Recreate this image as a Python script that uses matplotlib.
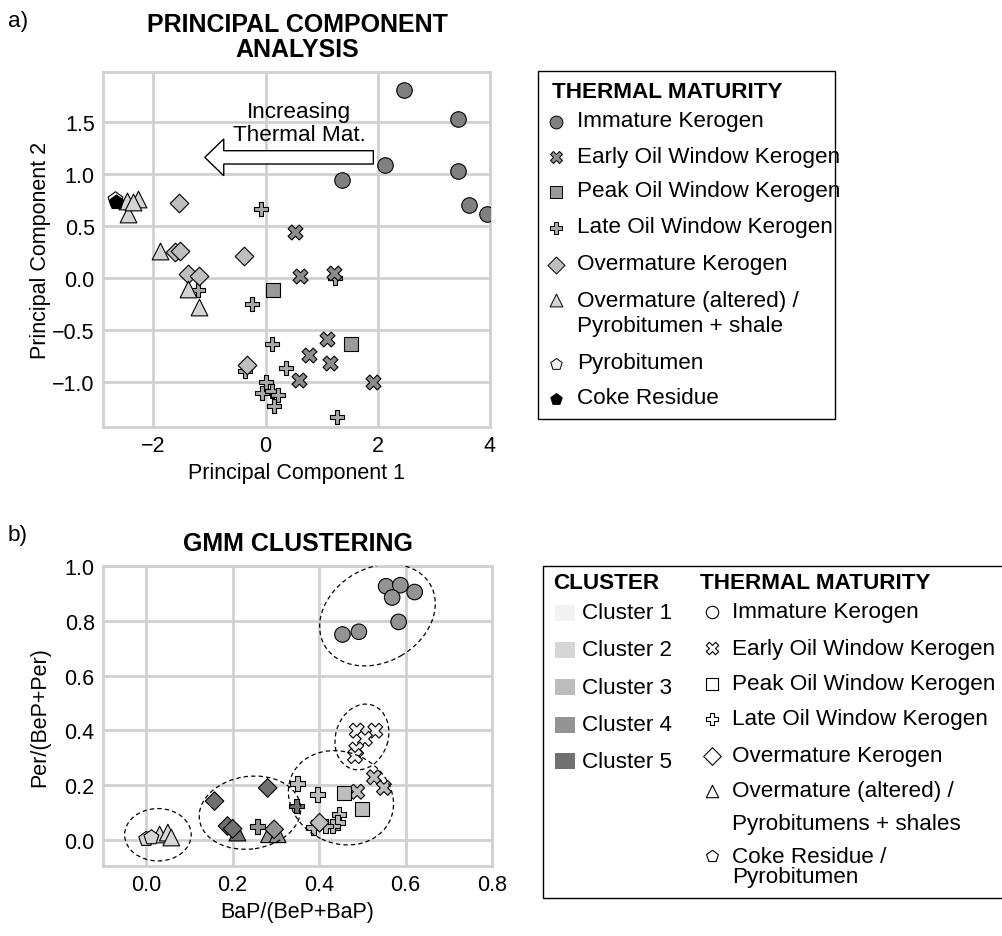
import numpy as np
import matplotlib
matplotlib.use("Agg")
from matplotlib import pyplot as plt
from matplotlib.patches import Rectangle, Ellipse, FancyArrow
from matplotlib.transforms import ScaledTranslation

plt.rcParams['font.family'] = ['Liberation Sans', 'DejaVu Sans']

# ---------------- panel a: PCA scores ----------------
imm_pc1 = [2.47, 3.43, 2.12, 3.43, 1.37, 3.63, 3.95]
imm_pc2 = [1.81, 1.53, 1.09, 1.03, 0.94, 0.70, 0.62]
early_pc1 = [0.53, 0.62, 1.21, 1.10, 0.77, 1.15, 0.60, 1.92]
early_pc2 = [0.44, 0.02, 0.05, -0.58, -0.74, -0.82, -0.98, -1.00]
peak_pc1 = [0.13, 1.52]
peak_pc2 = [-0.11, -0.63]
late_pc1 = [-0.08, -0.24, 0.12, 0.37, 0.00, -0.07, 0.11, 0.22, 0.14, 1.27, -1.21, 1.23, -0.36]
late_pc2 = [0.66, -0.25, -0.63, -0.86, -1.00, -1.10, -1.08, -1.12, -1.23, -1.33, -0.11, 0.00, -0.89]
over_pc1 = [-1.55, -0.39, -1.62, -1.53, -1.38, -1.19, -0.33]
over_pc2 = [0.72, 0.21, 0.25, 0.26, 0.04, 0.02, -0.83]
alt_pc1 = [-1.89, -1.38, -1.19, -2.48, -2.27, -2.45, -2.36]
alt_pc2 = [0.26, -0.10, -0.28, 0.74, 0.76, 0.62, 0.73]
pyro_pc1 = [-2.69]
pyro_pc2 = [0.76]
coke_pc1 = [-2.66]
coke_pc2 = [0.73]

# ---------------- panel b: GMM clustering ----------------
imm_bap = [0.555, 0.588, 0.569, 0.621, 0.584, 0.454, 0.492]
imm_per = [0.926, 0.930, 0.885, 0.905, 0.796, 0.750, 0.760]
imm_cl = [4, 4, 4, 4, 4, 4, 4]
early_bap = [0.487, 0.530, 0.506, 0.486, 0.483, 0.527, 0.550, 0.488]
early_per = [0.399, 0.399, 0.369, 0.330, 0.306, 0.229, 0.190, 0.176]
early_cl = [1, 1, 1, 1, 1, 3, 3, 3]
peak_bap = [0.457, 0.500]
peak_per = [0.170, 0.112]
peak_cl = [3, 3]
late_bap = [0.351, 0.396, 0.446, 0.442, 0.430, 0.415, 0.388, 0.348, 0.257]
late_per = [0.205, 0.166, 0.093, 0.063, 0.051, 0.051, 0.045, 0.124, 0.049]
late_cl = [3, 3, 3, 3, 3, 3, 3, 5, 4]
over_bap = [0.158, 0.281, 0.188, 0.200, 0.296, 0.401]
over_per = [0.142, 0.190, 0.051, 0.041, 0.039, 0.063]
over_cl = [5, 5, 5, 5, 4, 3]
alt_bap = [0.031, 0.050, 0.058, 0.211, 0.284, 0.304]
alt_per = [0.020, 0.027, 0.009, 0.027, 0.021, 0.021]
alt_cl = [2, 2, 2, 5, 4, 4]
coke_bap = [0.000, 0.012]
coke_per = [0.003, 0.009]
coke_cl = [2, 2]

# cluster ellipses: centre (data), semi-axes (px), angle (deg)
ell_x = [0.027, 0.240, 0.4505, 0.499, 0.535]
ell_y = [0.019, 0.0996, 0.154, 0.376, 0.821]
ell_a = [33.3, 51.0, 54.0, 33.5, 61.0]
ell_b = [26.2, 36.3, 45.5, 26.2, 47.0]
ell_ang = [0, 8, -25, 72, 30]

cluster_names = ["Cluster 1", "Cluster 2", "Cluster 3", "Cluster 4", "Cluster 5"]
cluster_colors = {1: "#f2f2f2", 2: "#d6d6d6", 3: "#bdbdbd", 4: "#939393", 5: "#707070"}

maturity_a = ["Immature Kerogen", "Early Oil Window Kerogen", "Peak Oil Window Kerogen",
              "Late Oil Window Kerogen", "Overmature Kerogen",
              "Overmature (altered) /\nPyrobitumen + shale", "Pyrobitumen", "Coke Residue"]
maturity_b = ["Immature Kerogen", "Early Oil Window Kerogen", "Peak Oil Window Kerogen",
              "Late Oil Window Kerogen", "Overmature Kerogen",
              "Overmature (altered) /", "Pyrobitumens + shales", "Coke Residue /\nPyrobitumen"]

GRID = "#d0d0d0"
FS = 16.2

fig = plt.figure(figsize=(10.03, 9.37), dpi=100)
W, H = 1003, 937


def px_axes(l, t, r, b):
    return fig.add_axes([l / W, 1 - b / H, (r - l) / W, (b - t) / H])


def style(ax):
    ax.grid(True, color=GRID, lw=2)
    ax.set_axisbelow(True)
    for s in ax.spines.values():
        s.set_color(GRID)
        s.set_linewidth(2)
    ax.tick_params(length=0, labelsize=15.5, pad=6)


# ---- panel a
ax = px_axes(103, 73, 490, 428)
style(ax)
ax.set_xlim(-2.9, 4.0)
ax.set_ylim(-1.43, 1.98)
ax.set_xticks([-2, 0, 2, 4])
ax.set_yticks([-1.0, -0.5, 0.0, 0.5, 1.0, 1.5])
ax.set_yticklabels(["\u22121.0", "\u22120.5", "0.0", "0.5", "1.0", "1.5"])
ax.set_xlabel("Principal Component 1", fontsize=15.5)
ax.set_ylabel("Principal Component 2", fontsize=15.5)
ax.yaxis.set_label_coords(-0.135, 0.5)

kw = dict(edgecolor="black", linewidths=0.8, zorder=3)
ax.scatter(imm_pc1, imm_pc2, marker="o", s=125, facecolor="#808080", **kw)
ax.scatter(late_pc1, late_pc2, marker="P", s=115, facecolor="#a9a9a9", **kw)
ax.scatter(early_pc1, early_pc2, marker="X", s=115, facecolor="#8c8c8c", **kw)
ax.scatter(peak_pc1, peak_pc2, marker="s", s=100, facecolor="#9a9a9a", **kw)
ax.scatter(over_pc1, over_pc2, marker="D", s=90, facecolor="#bebebe", **kw)
ax.scatter(alt_pc1, alt_pc2, marker="^", s=145, facecolor="#d4d4d4", **kw)
ax.scatter(pyro_pc1, pyro_pc2, marker="p", s=125, facecolor="#f2f2f2", **kw)
ax.scatter(coke_pc1, coke_pc2, marker="p", s=115, facecolor="black", **kw)

ax.add_patch(FancyArrow(1.92, 1.16, -3.005, 0, width=0.128, head_width=0.353,
                        head_length=0.338, length_includes_head=True,
                        fc="white", ec="black", lw=1, zorder=4))
ax.text(0.6, 1.49, "Increasing\nThermal Mat.", ha="center", va="center",
        fontsize=FS, linespacing=1.15, zorder=5)

# ---- panel b
bx = px_axes(103, 567, 492, 867)
style(bx)
bx.set_xlim(-0.1, 0.8)
bx.set_ylim(-0.095, 1.0)
bx.set_xticks([0.0, 0.2, 0.4, 0.6, 0.8])
bx.set_yticks([0.0, 0.2, 0.4, 0.6, 0.8, 1.0])
bx.xaxis.set_major_formatter(matplotlib.ticker.FormatStrFormatter("%.1f"))
bx.yaxis.set_major_formatter(matplotlib.ticker.FormatStrFormatter("%.1f"))
bx.set_xlabel("BaP/(BeP+BaP)", fontsize=15.5)
bx.set_ylabel("Per/(BeP+Per)", fontsize=15.5)
bx.yaxis.set_label_coords(-0.135, 0.5)


def cols(cl):
    return [cluster_colors[c] for c in cl]


bx.scatter(imm_bap, imm_per, marker="o", s=125, facecolor=cols(imm_cl), **kw)
bx.scatter(late_bap, late_per, marker="P", s=115, facecolor=cols(late_cl), **kw)
bx.scatter(early_bap, early_per, marker="X", s=115, facecolor=cols(early_cl), **kw)
bx.scatter(peak_bap, peak_per, marker="s", s=100, facecolor=cols(peak_cl), **kw)
bx.scatter(alt_bap, alt_per, marker="^", s=145, facecolor=cols(alt_cl), **kw)
bx.scatter(over_bap, over_per, marker="D", s=90, facecolor=cols(over_cl), **kw)
bx.scatter(coke_bap, coke_per, marker="p", s=125, facecolor=cols(coke_cl), **kw)

for cx, cy, a, b, ang in zip(ell_x, ell_y, ell_a, ell_b, ell_ang):
    tr = fig.dpi_scale_trans + ScaledTranslation(cx, cy, bx.transData)
    bx.add_patch(Ellipse((0, 0), 2 * a / 100, 2 * b / 100, angle=ang, transform=tr,
                         fill=False, ls=(0, (3.5, 2.5)), lw=0.9, ec="black", zorder=4))

# ---- overlay for titles and legend boxes (pixel coordinates)
ov = fig.add_axes([0, 0, 1, 1])
ov.set_xlim(0, W)
ov.set_ylim(H, 0)
ov.axis("off")

ov.text(18, 21, "a)", fontsize=FS, ha="center", va="center")
ov.text(18, 536, "b)", fontsize=FS, ha="center", va="center")
ov.text(297, 25, "PRINCIPAL COMPONENT", fontsize=18, weight="bold", ha="center", va="center")
ov.text(297, 50, "ANALYSIS", fontsize=18, weight="bold", ha="center", va="center")
ov.text(298, 544, "GMM CLUSTERING", fontsize=18, weight="bold", ha="center", va="center")

# legend a
ov.add_patch(Rectangle((537.7, 72), 297.3, 348, fill=False, ec="black", lw=1))
ov.text(551.7, 92, "THERMAL MATURITY", fontsize=FS, weight="bold", va="center")
rows_a = [123, 158, 193, 229, 266, 301, 365, 400]
mk_a = [("o", "#808080", 85), ("X", "#8c8c8c", 75), ("s", "#9a9a9a", 70), ("P", "#a9a9a9", 75),
        ("D", "#bebebe", 75), ("^", "#d4d4d4", 85), ("p", "#f2f2f2", 75), ("p", "black", 75)]
for y, lab, (m, c, s) in zip(rows_a, maturity_a, mk_a):
    ov.scatter([556], [y], marker=m, s=s, facecolor=c, edgecolor="black", linewidths=0.7)
    ov.text(576.7, y - 1 if "\n" not in lab else y + 13, lab, fontsize=FS, va="center",
            linespacing=1.25)

# legend b
ov.add_patch(Rectangle((543.3, 566.7), 480, 332.6, fill=False, ec="black", lw=1))
ov.text(553.3, 584, "CLUSTER", fontsize=FS, weight="bold", va="center")
ov.text(700, 584, "THERMAL MATURITY", fontsize=FS, weight="bold", va="center")
rows_c = [614, 650.7, 688.3, 725.7, 762.3]
for i, (y, lab) in enumerate(zip(rows_c, cluster_names)):
    ov.add_patch(Rectangle((555, y - 8), 20, 16, fc=cluster_colors[i + 1], ec="none"))
    ov.text(581.7, y, lab, fontsize=FS, va="center")
rows_b = [612.7, 649.3, 685, 720, 756.7, 791.7, 825, 867.5]
mk_b = ["o", "X", "s", "P", "D", "^", None, "p"]
for y, lab, m in zip(rows_b, maturity_b, mk_b):
    if m is not None:
        my = y if "\n" not in lab else y - 11
        ov.scatter([712.3], [my], marker=m, s=80, facecolor="white", edgecolor="black",
                   linewidths=0.8)
    ov.text(731.7, y, lab, fontsize=FS, va="center", linespacing=0.95)

fig.savefig("out.png", dpi=100)
